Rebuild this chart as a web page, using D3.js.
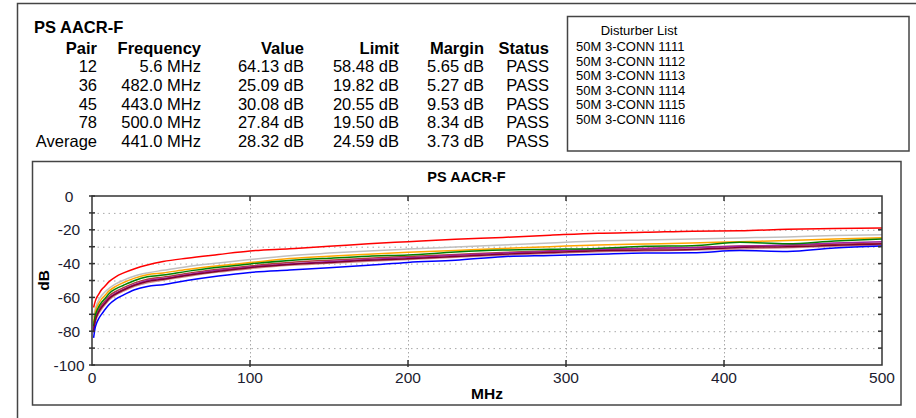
<!DOCTYPE html>
<html>
<head>
<meta charset="utf-8">
<script src="https://cdnjs.cloudflare.com/ajax/libs/d3/7.8.5/d3.min.js"></script>
<style>
    body { margin: 0; background: #fff; }
    svg { display: block; font-family: "Liberation Sans", Arial, sans-serif; }
</style>
</head>
<body>
<div id="chart"></div>
<script>
// summary table
var tableTitle = "PS AACR-F";
var headers = ["Pair", "Frequency", "Value", "Limit", "Margin", "Status"];
var pairs = ["12", "36", "45", "78", "Average"];
var frequencies = ["5.6 MHz", "482.0 MHz", "443.0 MHz", "500.0 MHz", "441.0 MHz"];
var values = ["64.13 dB", "25.09 dB", "30.08 dB", "27.84 dB", "28.32 dB"];
var limits = ["58.48 dB", "19.82 dB", "20.55 dB", "19.50 dB", "24.59 dB"];
var margins = ["5.65 dB", "5.27 dB", "9.53 dB", "8.34 dB", "3.73 dB"];
var statuses = ["PASS", "PASS", "PASS", "PASS", "PASS"];

var disturberTitle = "Disturber List";
var disturbers = ["50M 3-CONN 1111", "50M 3-CONN 1112", "50M 3-CONN 1113",
    "50M 3-CONN 1114", "50M 3-CONN 1115", "50M 3-CONN 1116"];

// chart
var chartTitle = "PS AACR-F";
var xLabel = "MHz";
var yLabel = "dB";
var xTicks = [0, 100, 200, 300, 400, 500];
var yTicks = [0, -20, -40, -60, -80, -100];
var yGrid = [-10, -20, -30, -40, -50, -60, -70, -80, -90];

var freqMHz = [1, 2, 3, 4, 6, 8, 11, 15, 20, 27, 35, 45, 60, 80, 100, 125, 150, 175, 200, 230, 260, 290, 320, 350, 380, 410, 440, 470, 500];

var limitLine = [-66, -62.5, -60, -58.5, -55.5, -53.5, -50.5, -47.8, -45.5, -43, -40.8, -38.8, -36.8, -34.6, -32.5, -31.2, -29.8, -28.2, -27, -25.6, -24.5, -23.2, -22, -21.5, -20.8, -20.6, -19.7, -19.2, -19];
var graySeries = [-72, -67, -64, -62, -59, -57, -54.5, -52, -49.8, -47.3, -45.5, -44, -41.8, -39.6, -37.6, -35.3, -33.8, -32.5, -31.4, -30.2, -29, -27.8, -26.6, -26, -25.4, -24.8, -24.2, -23.4, -23];
var orangeSeries = [-75, -69, -66, -64, -61, -59, -56, -53.5, -51.2, -48.6, -46.6, -45.5, -43.5, -41.3, -39.4, -37, -35.6, -34.4, -33.3, -32.2, -31, -30, -29, -28.4, -27.8, -27, -26.4, -25.4, -24.7];
var greenSeries = [-77, -71, -68, -66, -63, -61, -57.5, -55, -52.8, -50, -47.8, -46.8, -44.6, -42.2, -40.2, -38.2, -36.8, -35.6, -34.9, -33.2, -32, -31.5, -31, -29.8, -29.5, -27.4, -28.2, -26.6, -25.4];
var brownSeries = [-78, -72.5, -69.5, -67.5, -64.5, -62.3, -59, -56.5, -54.2, -51.4, -49.2, -48, -45.8, -43.4, -41.4, -39.4, -38, -36.8, -35.8, -34.6, -33.4, -32.4, -31.6, -31, -30.4, -29.6, -29.3, -28.5, -28];
var purpleSeries = [-79, -73.5, -70.5, -68.5, -65.5, -63.2, -60, -57.5, -55.2, -52.3, -50, -48.8, -46.6, -44, -42, -40.2, -38.8, -37.5, -36.6, -35, -33.8, -32.8, -31.6, -31, -30.6, -29.8, -29, -27.8, -27];
var maroonSeries = [-80, -74, -71, -69, -66, -63.8, -60.6, -58, -55.6, -52.8, -50.6, -49.3, -47, -44.5, -42.4, -40.6, -39.3, -38, -37.2, -35.8, -34.4, -33.5, -32.4, -32, -31.6, -30.4, -30.1, -29.2, -28.4];
var pinkSeries = [-81, -75, -72, -70, -67, -64.6, -61.3, -58.6, -56.3, -53.5, -51.3, -49.8, -47.6, -45, -43, -41, -39.8, -38.6, -37.6, -36.3, -35, -34, -33, -32.6, -32, -31.3, -30.6, -29.8, -29];
var blueSeries = [-84, -78, -75, -73, -70, -67.5, -64, -61, -58.5, -55.5, -53.5, -52.5, -50, -47.3, -45.2, -43.8, -42.5, -41, -39.3, -38, -35.9, -35.2, -34.5, -33.8, -33.6, -32.3, -32.8, -30.8, -29.6];

var seriesList = [graySeries, orangeSeries, pinkSeries, brownSeries, purpleSeries, greenSeries, maroonSeries, blueSeries, limitLine];
var seriesColors = ["#c0c0c0", "#ffa500", "#d08a8a", "#b03a3a", "#a020a0", "#008000", "#800030", "#0000ff", "#ff0000"];

var svg = d3.select("#chart")
    .append("svg")
    .attr("width", 916)
    .attr("height", 418);

// outer frame
svg.append("path")
    .attr("d", "M17.5,418 L17.5,3.5 L916,3.5")
    .attr("fill", "none")
    .attr("stroke", "#444")
    .attr("stroke-width", 1.5);

// ---- summary table ----
svg.append("text")
    .attr("x", 34)
    .attr("y", 33)
    .style("font-size", "16.5px")
    .style("font-weight", "bold")
    .text(tableTitle);

var colRight = [97, 201, 304, 399, 484, 549];
var rowY = [72, 91, 110, 128, 147];

svg.selectAll(".hdr")
    .data(headers)
    .enter()
    .append("text")
    .attr("class", "hdr")
    .attr("x", function(d, i) { return colRight[i]; })
    .attr("y", 54)
    .attr("text-anchor", "end")
    .style("font-size", "16.5px")
    .style("font-weight", "bold")
    .text(function(d) { return d; });

var columns = [pairs, frequencies, values, limits, margins, statuses];
columns.forEach(function(col, ci) {
    svg.selectAll(".col" + ci)
        .data(col)
        .enter()
        .append("text")
        .attr("class", "col" + ci)
        .attr("x", colRight[ci])
        .attr("y", function(d, i) { return rowY[i]; })
        .attr("text-anchor", "end")
        .style("font-size", "16.5px")
        .text(function(d) { return d; });
});

// ---- disturber list ----
svg.append("rect")
    .attr("x", 567.5)
    .attr("y", 16.5)
    .attr("width", 341.5)
    .attr("height", 134.5)
    .attr("fill", "none")
    .attr("stroke", "#444")
    .attr("stroke-width", 1.5);

svg.append("text")
    .attr("x", 639)
    .attr("y", 35)
    .attr("text-anchor", "middle")
    .style("font-size", "13px")
    .text(disturberTitle);

svg.selectAll(".dist")
    .data(disturbers)
    .enter()
    .append("text")
    .attr("class", "dist")
    .attr("x", 576)
    .attr("y", function(d, i) { return 51 + i * 14.5; })
    .style("font-size", "13px")
    .text(function(d) { return d; });

// ---- chart box ----
svg.append("rect")
    .attr("x", 32.5)
    .attr("y", 161.5)
    .attr("width", 868.5)
    .attr("height", 243.5)
    .attr("fill", "none")
    .attr("stroke", "#444")
    .attr("stroke-width", 1.5);

svg.append("text")
    .attr("x", 466.5)
    .attr("y", 182)
    .attr("text-anchor", "middle")
    .style("font-size", "14.5px")
    .style("font-weight", "bold")
    .text(chartTitle);

var margin = {top: 196, left: 92},
    width = 790,
    height = 169;

var g = svg.append("g")
    .attr("transform", "translate(" + margin.left + "," + margin.top + ")");

var xScale = d3.scaleLinear()
    .domain([0, 500])
    .range([0, width]);

var yScale = d3.scaleLinear()
    .domain([-100, 0])
    .range([height, 0]);

// dotted grid
g.selectAll(".hgrid")
    .data(yGrid)
    .enter()
    .append("line")
    .attr("class", "hgrid")
    .attr("x1", 0)
    .attr("x2", width)
    .attr("y1", function(d) { return yScale(d) + 0.5; })
    .attr("y2", function(d) { return yScale(d) + 0.5; })
    .attr("stroke", "#a8a8a8")
    .attr("stroke-dasharray", "1.5,4");

g.selectAll(".vgrid")
    .data(xTicks.slice(1, -1))
    .enter()
    .append("line")
    .attr("class", "vgrid")
    .attr("x1", function(d) { return Math.round(xScale(d)) + 0.5; })
    .attr("x2", function(d) { return Math.round(xScale(d)) + 0.5; })
    .attr("y1", 0)
    .attr("y2", height)
    .attr("stroke", "#a8a8a8")
    .attr("stroke-dasharray", "1.5,2.5");

// curves
var line = d3.line()
    .x(function(d) { return xScale(d[0]); })
    .y(function(d) { return yScale(d[1]); })
    .curve(d3.curveMonotoneX);

g.selectAll(".curve")
    .data(seriesList)
    .enter()
    .append("path")
    .attr("class", "curve")
    .attr("fill", "none")
    .attr("stroke", function(d, i) { return seriesColors[i]; })
    .attr("stroke-width", 1.5)
    .attr("d", function(s) {
        return line(s.map(function(v, i) { return [freqMHz[i], v]; }));
    });

// plot frame
g.append("rect")
    .attr("x", 0)
    .attr("y", 0)
    .attr("width", width)
    .attr("height", height)
    .attr("fill", "none")
    .attr("stroke", "#333")
    .attr("stroke-width", 1.5);

// ticks
var yTickAll = yGrid.concat([0, -100]);
g.selectAll(".ltick")
    .data(yTickAll)
    .enter()
    .append("line")
    .attr("class", "ltick")
    .attr("x1", -3)
    .attr("x2", 3)
    .attr("y1", function(d) { return yScale(d); })
    .attr("y2", function(d) { return yScale(d); })
    .attr("stroke", "#333")
    .attr("stroke-width", 1.5);

g.selectAll(".rtick")
    .data(yGrid)
    .enter()
    .append("line")
    .attr("class", "rtick")
    .attr("x1", width - 4)
    .attr("x2", width)
    .attr("y1", function(d) { return yScale(d); })
    .attr("y2", function(d) { return yScale(d); })
    .attr("stroke", "#333")
    .attr("stroke-width", 1.5);

g.selectAll(".btick")
    .data(xTicks.slice(1, -1))
    .enter()
    .append("line")
    .attr("class", "btick")
    .attr("x1", function(d) { return xScale(d); })
    .attr("x2", function(d) { return xScale(d); })
    .attr("y1", height - 5)
    .attr("y2", height + 2)
    .attr("stroke", "#333")
    .attr("stroke-width", 1.5);

g.selectAll(".ttick")
    .data(xTicks.slice(1, -1))
    .enter()
    .append("line")
    .attr("class", "ttick")
    .attr("x1", function(d) { return xScale(d); })
    .attr("x2", function(d) { return xScale(d); })
    .attr("y1", 0)
    .attr("y2", 5)
    .attr("stroke", "#333")
    .attr("stroke-width", 1.5);

// tick labels
g.selectAll(".ylab")
    .data(yTicks)
    .enter()
    .append("text")
    .attr("class", "ylab")
    .attr("x", -23)
    .attr("y", function(d) { return yScale(d) + 5.5; })
    .attr("text-anchor", "middle")
    .attr("fill", "#1c1c30")
    .style("font-size", "15.5px")
    .text(function(d) { return d; });

g.selectAll(".xlab")
    .data(xTicks)
    .enter()
    .append("text")
    .attr("class", "xlab")
    .attr("x", function(d) { return xScale(d); })
    .attr("y", height + 18)
    .attr("text-anchor", "middle")
    .attr("fill", "#1c1c30")
    .style("font-size", "15.5px")
    .text(function(d) { return d; });

// axis titles
g.append("text")
    .attr("x", width / 2)
    .attr("y", height + 34)
    .attr("text-anchor", "middle")
    .style("font-size", "15.5px")
    .style("font-weight", "bold")
    .text(xLabel);

g.append("text")
    .attr("transform", "translate(-43," + (height / 2) + ") rotate(-90)")
    .attr("text-anchor", "middle")
    .style("font-size", "15.5px")
    .style("font-weight", "bold")
    .text(yLabel);
</script>
</body>
</html>
